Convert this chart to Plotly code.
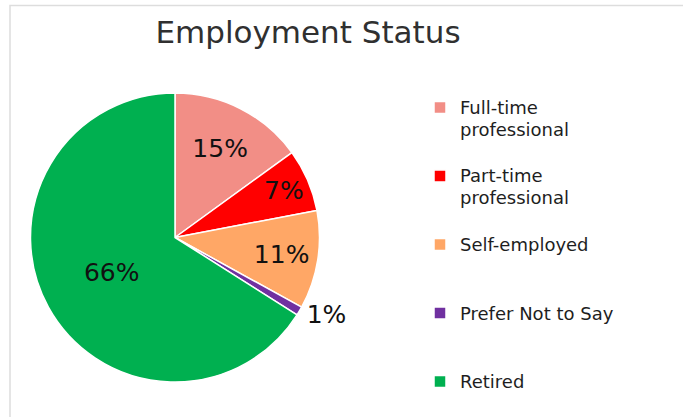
import plotly.graph_objects as go

# Data
categories = ["Full-time professional", "Part-time professional", "Self-employed",
              "Prefer Not to Say", "Retired"]
values = [15, 7, 11, 1, 66]
colors = ["#F28E86", "#FF0000", "#FFA766", "#7030A0", "#00B050"]
text_positions = ["inside", "inside", "inside", "outside", "inside"]


def legend_label(name, lines=3, size=18):
    parts = name.replace(" professional", "\nprofessional").split("\n")
    parts = [f"<span style='font-size:{size}px'>{p}</span>" for p in parts]
    while len(parts) < lines:
        parts.append(" ")
    return "<br>".join(parts)


labels = [legend_label(c, lines=(3 if i < len(categories) - 1 else 1))
          for i, c in enumerate(categories)]

fig = go.Figure(
    go.Pie(
        labels=labels,
        values=values,
        sort=False,
        direction="clockwise",
        rotation=0,
        marker=dict(colors=colors, line=dict(color="white", width=1.5)),
        texttemplate="%{percent:.0%}",
        textposition=text_positions,
        insidetextorientation="horizontal",
        textfont=dict(family="DejaVu Sans", size=25, color="#111111"),
        hoverinfo="skip",
        domain=dict(x=[30 / 683, 320 / 683], y=[1 - 382 / 417, 1 - 93 / 417]),
    )
)

fig.update_layout(
    width=683,
    height=417,
    margin=dict(l=0, r=0, t=0, b=0),
    paper_bgcolor="white",
    plot_bgcolor="white",
    title=dict(
        text="Employment Status",
        x=308 / 683,
        xanchor="center",
        xref="paper",
        y=1 - 32 / 417,
        yref="container",
        yanchor="middle",
        font=dict(family="DejaVu Sans", size=31, color="#303030"),
    ),
    uniformtext=dict(mode="show", minsize=25),
    legend=dict(
        x=420 / 683,
        xanchor="left",
        y=1 - 90 / 417,
        yanchor="top",
        valign="top",
        font=dict(family="DejaVu Sans", size=16.8, color="#1E1E1E"),
        itemwidth=30,
        bgcolor="rgba(0,0,0,0)",
    ),
    showlegend=True,
    shapes=[
        dict(
            type="rect",
            xref="paper",
            yref="paper",
            x0=10 / 683,
            x1=1.05,
            y0=-0.05,
            y1=1 - 5.5 / 417,
            line=dict(color="#DDDDDD", width=1.5),
            fillcolor="rgba(0,0,0,0)",
            layer="below",
        )
    ],
)

fig.write_html(
    "out.html",
    config={"displayModeBar": False},
    post_script="document.body.style.margin='0';",
)
